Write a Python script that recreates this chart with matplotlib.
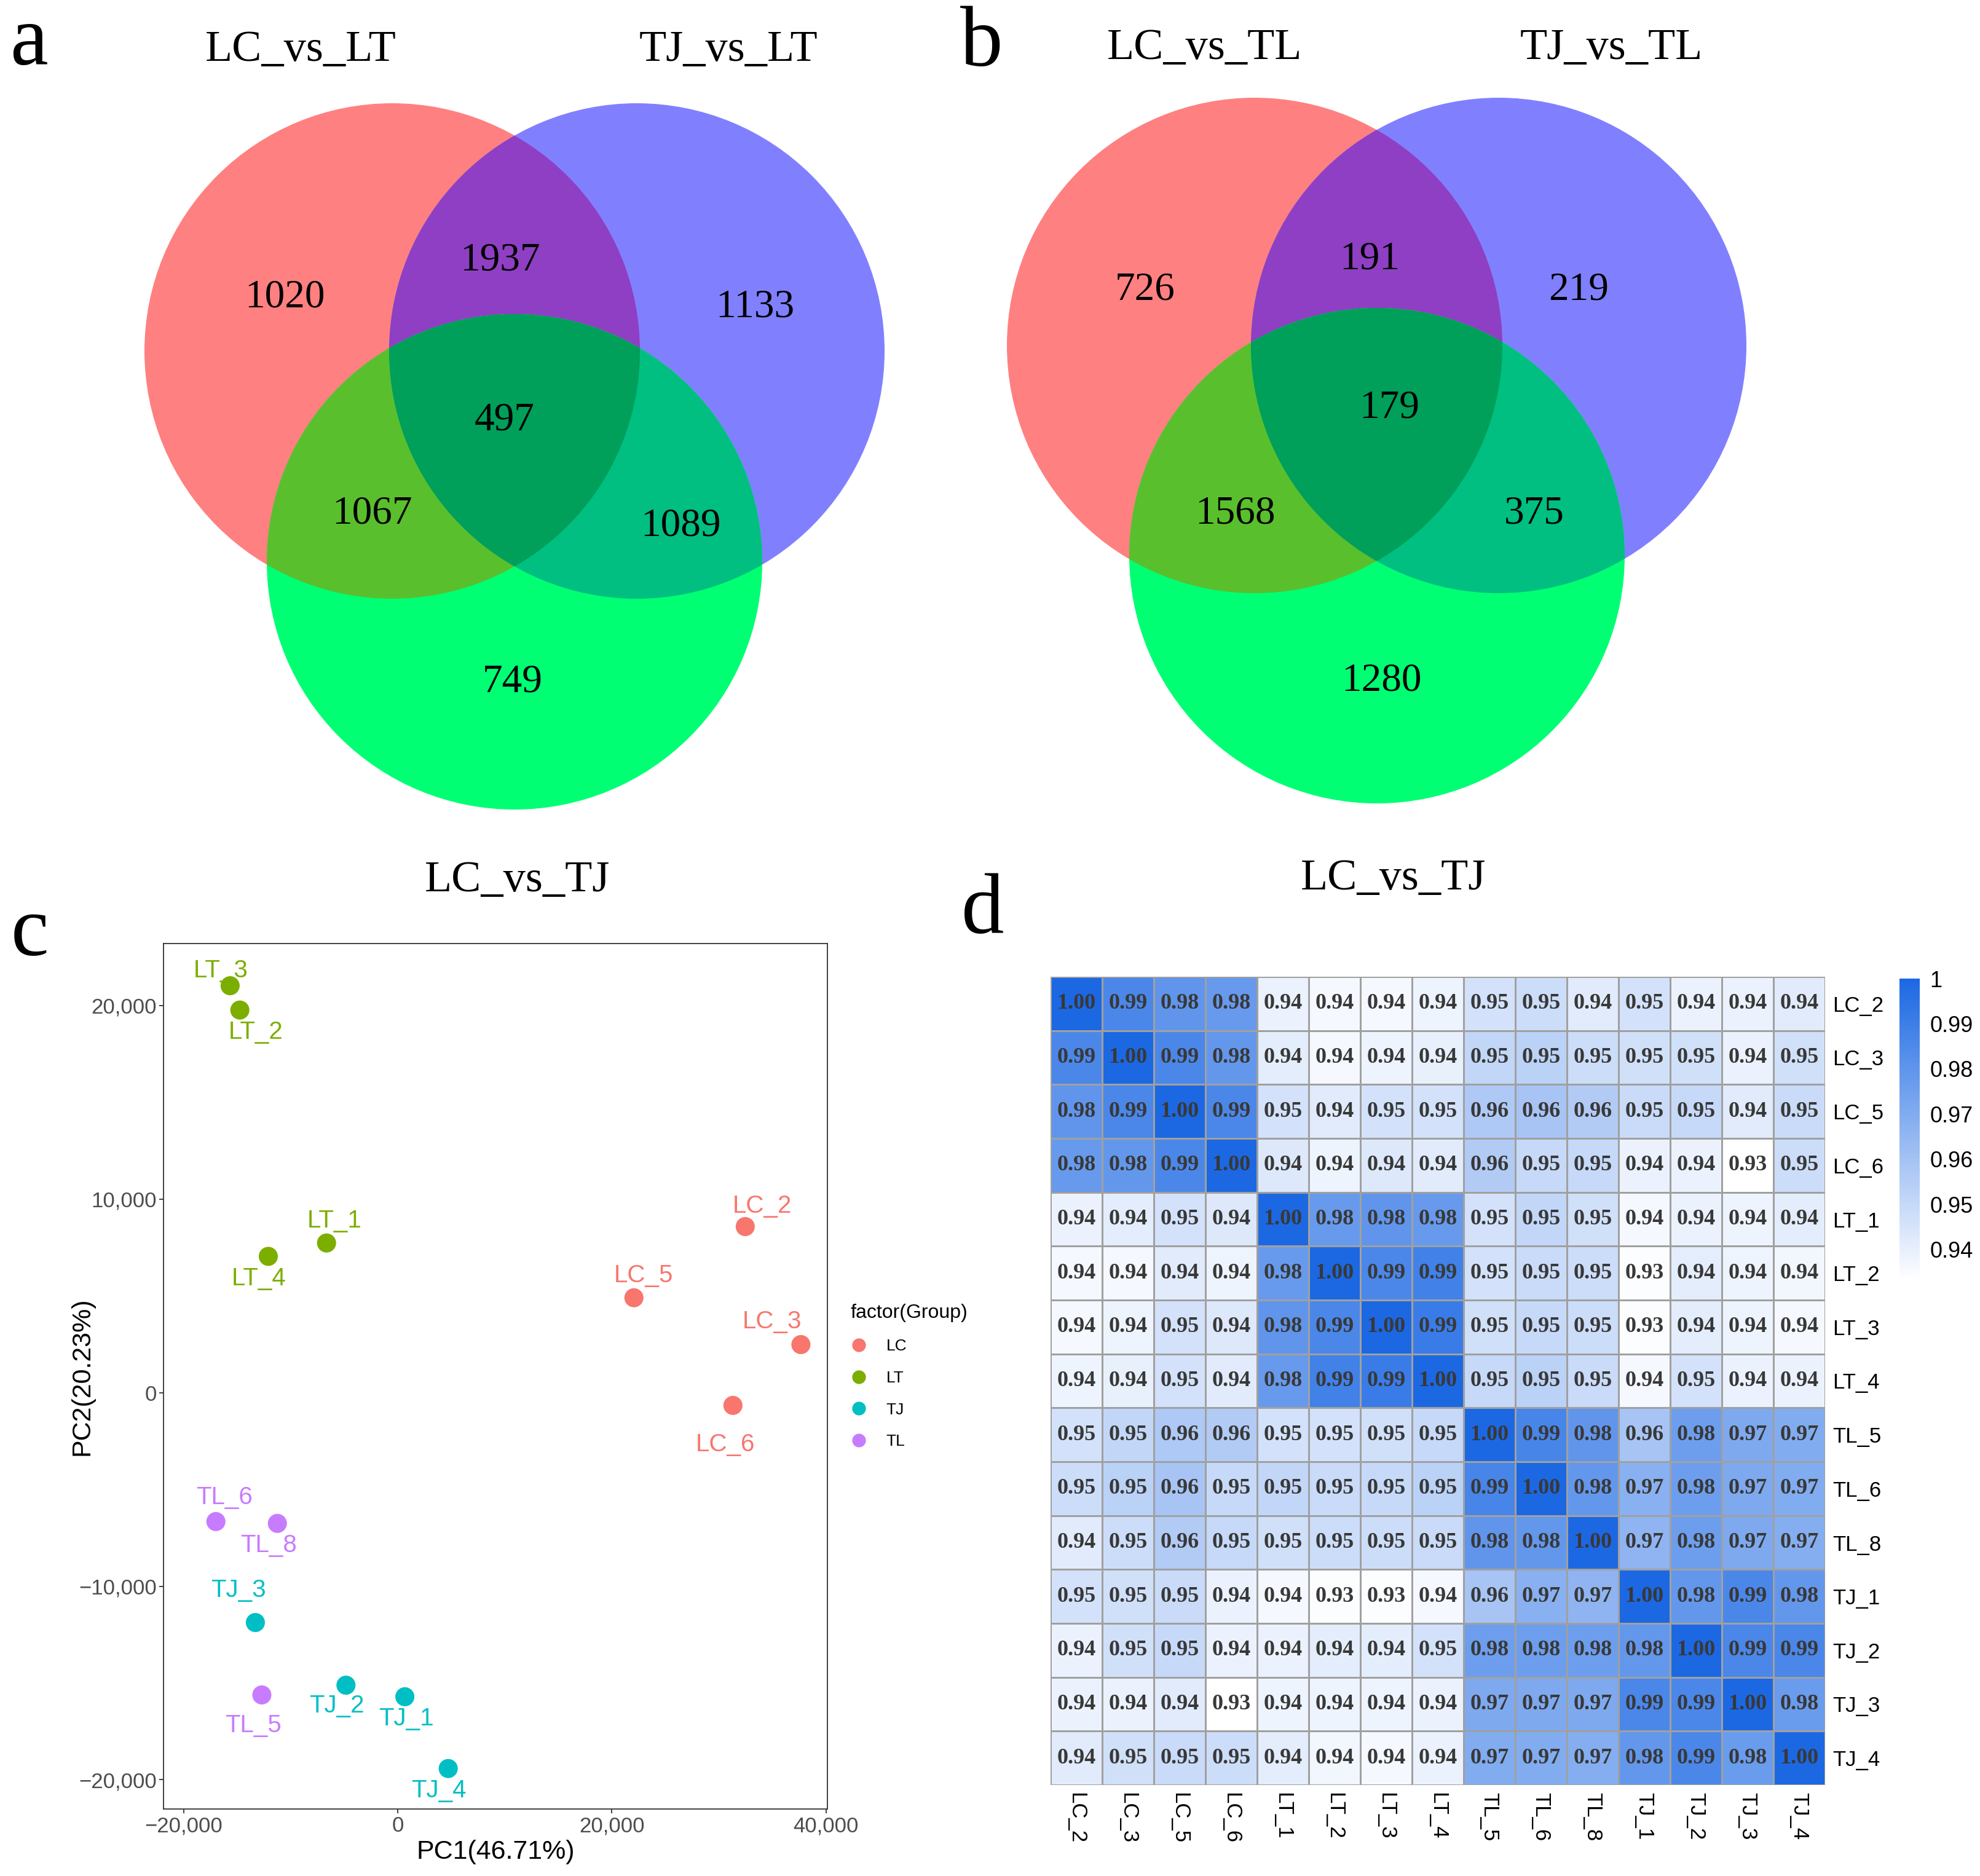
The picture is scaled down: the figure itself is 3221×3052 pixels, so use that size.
import numpy as np
import matplotlib
matplotlib.use('Agg')
import matplotlib.pyplot as plt
from matplotlib.patches import Circle, Polygon
from matplotlib.colors import LinearSegmentedColormap
from matplotlib.ticker import FuncFormatter
from matplotlib.lines import Line2D

# ---- data ----
# region order: A only, A&B, B only, A&B&C, A&C, B&C, C only
venn_a_sets = ['LC_vs_LT', 'TJ_vs_LT', 'LC_vs_TJ']
venn_a_counts = [1020, 1937, 1133, 497, 1067, 1089, 749]
venn_b_sets = ['LC_vs_TL', 'TJ_vs_TL', 'LC_vs_TJ']
venn_b_counts = [726, 191, 219, 179, 1568, 375, 1280]

pca_names = ['LC_2', 'LC_3', 'LC_5', 'LC_6', 'LT_1', 'LT_2', 'LT_3', 'LT_4',
             'TJ_1', 'TJ_2', 'TJ_3', 'TJ_4', 'TL_5', 'TL_6', 'TL_8']
pc1 = [32447, 37644, 22054, 31299, -6647, -14743, -15650, -12085,
       665, -4834, -13293, 4713, -12689, -16979, -11239]
pc2 = [8578, 2482, 4902, -660, 7730, 19764, 21021, 7039,
       -15711, -15114, -11877, -19419, -15617, -6661, -6756]
groups = ['LC', 'LT', 'TJ', 'TL']

samples = ['LC_2', 'LC_3', 'LC_5', 'LC_6', 'LT_1', 'LT_2', 'LT_3', 'LT_4',
           'TL_5', 'TL_6', 'TL_8', 'TJ_1', 'TJ_2', 'TJ_3', 'TJ_4']
corr = [
    [1.000, 0.986, 0.980, 0.978, 0.939, 0.936, 0.936, 0.938, 0.946, 0.948, 0.942, 0.946, 0.939, 0.939, 0.942],
    [0.986, 1.000, 0.986, 0.979, 0.941, 0.936, 0.938, 0.940, 0.951, 0.953, 0.948, 0.947, 0.947, 0.939, 0.947],
    [0.980, 0.986, 1.000, 0.986, 0.946, 0.942, 0.946, 0.946, 0.957, 0.959, 0.956, 0.949, 0.950, 0.942, 0.949],
    [0.978, 0.979, 0.986, 1.000, 0.943, 0.938, 0.943, 0.942, 0.956, 0.950, 0.950, 0.939, 0.939, 0.933, 0.948],
    [0.939, 0.941, 0.946, 0.943, 1.000, 0.978, 0.980, 0.978, 0.946, 0.951, 0.947, 0.936, 0.939, 0.938, 0.941],
    [0.936, 0.936, 0.942, 0.938, 0.978, 1.000, 0.986, 0.989, 0.946, 0.949, 0.948, 0.934, 0.941, 0.938, 0.937],
    [0.936, 0.938, 0.946, 0.943, 0.980, 0.986, 1.000, 0.991, 0.947, 0.950, 0.948, 0.934, 0.941, 0.938, 0.936],
    [0.938, 0.940, 0.946, 0.942, 0.978, 0.989, 0.991, 1.000, 0.950, 0.953, 0.949, 0.936, 0.946, 0.939, 0.939],
    [0.946, 0.951, 0.957, 0.956, 0.946, 0.946, 0.947, 0.950, 1.000, 0.987, 0.980, 0.959, 0.976, 0.971, 0.970],
    [0.948, 0.953, 0.959, 0.950, 0.951, 0.949, 0.950, 0.953, 0.987, 1.000, 0.979, 0.968, 0.976, 0.971, 0.970],
    [0.942, 0.948, 0.956, 0.950, 0.947, 0.948, 0.948, 0.949, 0.980, 0.979, 1.000, 0.966, 0.976, 0.971, 0.969],
    [0.946, 0.947, 0.949, 0.939, 0.936, 0.934, 0.934, 0.936, 0.959, 0.968, 0.966, 1.000, 0.979, 0.986, 0.979],
    [0.939, 0.947, 0.950, 0.939, 0.939, 0.941, 0.941, 0.946, 0.976, 0.976, 0.976, 0.979, 1.000, 0.986, 0.986],
    [0.939, 0.939, 0.942, 0.933, 0.938, 0.938, 0.938, 0.939, 0.971, 0.971, 0.971, 0.986, 0.986, 1.000, 0.977],
    [0.942, 0.947, 0.949, 0.948, 0.941, 0.937, 0.936, 0.939, 0.970, 0.970, 0.969, 0.979, 0.986, 0.977, 1.000],
]
cbar_ticks = [1.0, 0.99, 0.98, 0.97, 0.96, 0.95, 0.94]

# ---- figure, full-size pixel canvas for venn panels and letters ----
W, H = 3221, 3052
fig = plt.figure(figsize=(W / 100, H / 100), dpi=100)
bg = fig.add_axes([0, 0, 1, 1])
bg.set_xlim(0, W)
bg.set_ylim(H, 0)
bg.axis('off')

serif = 'Liberation Serif'
sans = 'Liberation Sans'


def venn3(ax, centers, r, sets, counts, count_pos, set_pos):
    cA, cB, cC = centers

    def circ(c, col):
        return Circle(c, r, facecolor=col, edgecolor='none', transform=ax.transData)

    ax.add_patch(circ(cA, '#FF8080'))
    ax.add_patch(circ(cB, '#8080FF'))
    p = ax.add_patch(circ(cB, '#8F3FC3'))
    p.set_clip_path(circ(cA, 'none'))
    ax.add_patch(circ(cC, '#00FF73'))
    p = ax.add_patch(circ(cC, '#5ABF2D'))
    p.set_clip_path(circ(cA, 'none'))
    p = ax.add_patch(circ(cC, '#00BF80'))
    p.set_clip_path(circ(cB, 'none'))
    # lens of A and B, used to clip C for the centre region
    t = np.linspace(0, 2 * np.pi, 1440)
    pa = np.c_[cA[0] + r * np.cos(t), cA[1] + r * np.sin(t)]
    pb = np.c_[cB[0] + r * np.cos(t), cB[1] + r * np.sin(t)]
    pts = np.vstack([pa[np.hypot(pa[:, 0] - cB[0], pa[:, 1] - cB[1]) <= r],
                     pb[np.hypot(pb[:, 0] - cA[0], pb[:, 1] - cA[1]) <= r]])
    m = pts.mean(0)
    pts = pts[np.argsort(np.arctan2(pts[:, 1] - m[1], pts[:, 0] - m[0]))]
    lens = Polygon(pts, closed=True, transform=ax.transData)
    p = ax.add_patch(circ(cC, '#009F5A'))
    p.set_clip_path(lens)

    for n, (x, y) in zip(counts, count_pos):
        ax.text(x, y, str(n), ha='center', va='baseline', fontsize=47, family=serif)
    for s, (x, y) in zip(sets, set_pos):
        ax.text(x, y, s, ha='center', va='baseline', fontsize=52, family=serif)


venn3(bg, [(638, 571), (1036, 571), (837, 914)], 403, venn_a_sets, venn_a_counts,
      [(464, 499), (813, 440), (1228, 515), (821, 700), (605, 852), (1108, 871), (834, 1126)],
      [(489, 99), (1185, 99), (842, 1450)])
venn3(bg, [(2041, 562), (2438, 562), (2240, 904)], 403, venn_b_sets, venn_b_counts,
      [(1863, 488), (2228, 438), (2568, 488), (2260, 679), (2009, 851), (2496, 851), (2247, 1124)],
      [(1960, 96), (2621, 96), (2267, 1447)])

for letter, x, y in [('a', 16, 105), ('b', 1562, 107), ('c', 18, 1554), ('d', 1564, 1518)]:
    bg.text(x, y, letter, ha='left', va='baseline', fontsize=100, family=serif)

# ---- c: PCA ----
colors = {'LC': '#F8766D', 'LT': '#7CAE00', 'TJ': '#00BFC4', 'TL': '#C77CFF'}
label_off = [(20, 24), (-34, 27), (11, 26), (-9, -46), (9, 26), (19, -26), (-11, 18), (-11, -26),
             (2, -26), (-11, -24), (-20, 38), (-11, -26), (-10, -36), (10, 28), (-10, -26)]

axc = fig.add_axes([266 / W, 1 - 2943 / H, 1080 / W, 1408 / H])
for g in groups:
    xs = [x for x, n in zip(pc1, pca_names) if n.startswith(g)]
    ys = [y for y, n in zip(pc2, pca_names) if n.startswith(g)]
    axc.scatter(xs, ys, s=500, color=colors[g], edgecolors='none', zorder=3)
for n, x, y, off in zip(pca_names, pc1, pc2, label_off):
    axc.annotate(n, (x, y), xytext=off, textcoords='offset points', ha='center', va='center',
                 color=colors[n[:2]], fontsize=29, family=sans)
axc.set_xlim(-21870, 40120)
axc.set_ylim(-21510, 23200)
axc.set_xticks([-20000, 0, 20000, 40000])
axc.set_yticks([-20000, -10000, 0, 10000, 20000])
fmt = FuncFormatter(lambda v, p: f"{int(v):,}".replace('-', '\u2212'))
axc.xaxis.set_major_formatter(fmt)
axc.yaxis.set_major_formatter(fmt)
axc.tick_params(labelsize=25, labelcolor='#4D4D4D', color='#333333', length=5, width=1.3, pad=3)
for lab in axc.get_xticklabels() + axc.get_yticklabels():
    lab.set_family(sans)
for sp in axc.spines.values():
    sp.set_linewidth(1.3)
    sp.set_color('#333333')
axc.set_xlabel('PC1(46.71%)', fontsize=31, family=sans, labelpad=4)
axc.set_ylabel('PC2(20.23%)', fontsize=31, family=sans)
axc.yaxis.set_label_coords(-0.104, 0.5)
handles = [Line2D([], [], ls='none', marker='o', markersize=16, color=colors[g], markeredgewidth=0)
           for g in groups]
leg = axc.legend(handles, groups, title='factor(Group)', loc='center left', bbox_to_anchor=(1.035, 0.5),
                 frameon=False, title_fontsize=23, handlelength=1.0, handletextpad=1.2,
                 labelspacing=1.05, borderaxespad=0, borderpad=0, alignment='left',
                 prop={'family': sans, 'size': 19})
leg.get_title().set_family(sans)

# ---- d: correlation heatmap ----
cmap = LinearSegmentedColormap.from_list('wb', ['#FFFFFF', '#1C68E3'])
mat = np.array(corr)
vmin, vmax = mat.min(), mat.max()
axd = fig.add_axes([1709 / W, 1 - 2904 / H, 1260 / W, 1315 / H])
mesh = axd.pcolormesh(mat, cmap=cmap, vmin=vmin, vmax=vmax, edgecolors='#A0A0A0', linewidth=1.8)
axd.set_xlim(0, len(samples))
axd.set_ylim(len(samples), 0)
for i in range(len(samples)):
    for j in range(len(samples)):
        axd.text(j + 0.5, i + 0.5, f"{mat[i, j]:.2f}", ha='center', va='center', fontsize=26,
                 family=serif, weight='bold', color='#383838')
axd.set_xticks(np.arange(len(samples)) + 0.5)
axd.set_yticks(np.arange(len(samples)) + 0.5)
axd.set_xticklabels(samples, rotation=270, family=sans, fontsize=25)
axd.set_yticklabels(samples, family=sans, fontsize=25)
axd.yaxis.tick_right()
axd.tick_params(length=0, pad=9)
for sp in axd.spines.values():
    sp.set_visible(False)

cax = fig.add_axes([3090 / W, 1 - 2084 / H, 33 / W, 492 / H])
cb = fig.colorbar(mesh, cax=cax, ticks=cbar_ticks)
cb.outline.set_visible(False)
cb.ax.set_yticklabels(['1' if t == 1.0 else f"{t:.2f}" for t in cbar_ticks], family=sans, fontsize=26)
cb.ax.tick_params(length=0, pad=12)

fig.savefig('out.png', dpi=100)
